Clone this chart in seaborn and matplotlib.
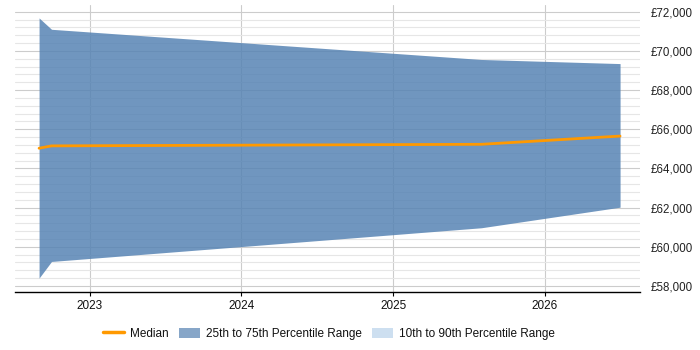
import matplotlib
matplotlib.use("Agg")
import matplotlib.pyplot as plt
import matplotlib.dates as mdates
from matplotlib.ticker import MultipleLocator, FuncFormatter
from matplotlib.lines import Line2D
from matplotlib.patches import Patch
import seaborn as sns
import pandas as pd

dates = ["2022-09-01", "2022-10-01", "2025-08-01", "2026-07-01"]
median = [65030, 65150, 65230, 65650]
p25 = [58400, 59250, 60970, 62020]
p75 = [71680, 71100, 69560, 69350]

df = pd.DataFrame({"date": pd.to_datetime(dates), "median": median, "p25": p25, "p75": p75})

sns.set_theme(style="white")
plt.rcParams['font.family'] = ['Liberation Sans', 'DejaVu Sans']

fig = plt.figure(figsize=(7, 3.5), dpi=100)
ax = fig.add_axes([0.0214, 0.1666, 0.8929, 0.8191])

fill_col = (86.8/255, 131.5/255, 179.7/255)
ax.fill_between(df["date"], df["p25"], df["p75"], color=fill_col, alpha=0.85, linewidth=0, zorder=2)
sns.lineplot(data=df, x="date", y="median", ax=ax, color="#ff9900", linewidth=2, zorder=3)

ax.set_xlim(pd.Timestamp("2022-07-05"), pd.Timestamp("2026-08-18"))
ax.set_ylim(57707, 72340)

ax.yaxis.set_major_locator(MultipleLocator(2000))
ax.yaxis.set_minor_locator(MultipleLocator(400))
ax.yaxis.set_major_formatter(FuncFormatter(lambda v, p: f"£{int(v):,}"))
ax.yaxis.tick_right()
ax.xaxis.set_major_locator(mdates.YearLocator())
ax.xaxis.set_major_formatter(mdates.DateFormatter("%Y"))

ax.grid(True, which="major", axis="y", color="#cccccc", linewidth=0.8, zorder=0)
ax.grid(True, which="minor", axis="y", color="#e6e6e6", linewidth=0.8, zorder=0)
ax.grid(True, which="major", axis="x", color="#cccccc", linewidth=0.8, zorder=0)
ax.set_axisbelow(True)

for s in ["top", "right", "left"]:
    ax.spines[s].set_visible(False)
ax.spines["bottom"].set_color("black")
ax.spines["bottom"].set_linewidth(1)

ax.tick_params(axis="y", which="both", length=0, pad=7.5, labelsize=8.3, colors="#222222")
ax.tick_params(axis="x", which="major", length=3, width=0.8, color="black", pad=3, labelsize=8.5, labelcolor="#111111", bottom=True)
ax.set_xlabel("")
ax.set_ylabel("")

handles = [
    Line2D([0], [0], color="#ff9900", linewidth=2.5),
    Patch(facecolor="#87a6c8", edgecolor="none"),
    Patch(facecolor="#cddff0", edgecolor="none"),
]
labels = ["Median", "25th to 75th Percentile Range", "10th to 90th Percentile Range"]
fig.legend(handles, labels, loc="center", bbox_to_anchor=(0.47, 0.046), ncol=3, frameon=False,
           fontsize=8.5, handlelength=1.75, handleheight=1.0, handletextpad=0.5, columnspacing=0.9,
           labelcolor="#111111")

fig.savefig("out.png", dpi=100)
